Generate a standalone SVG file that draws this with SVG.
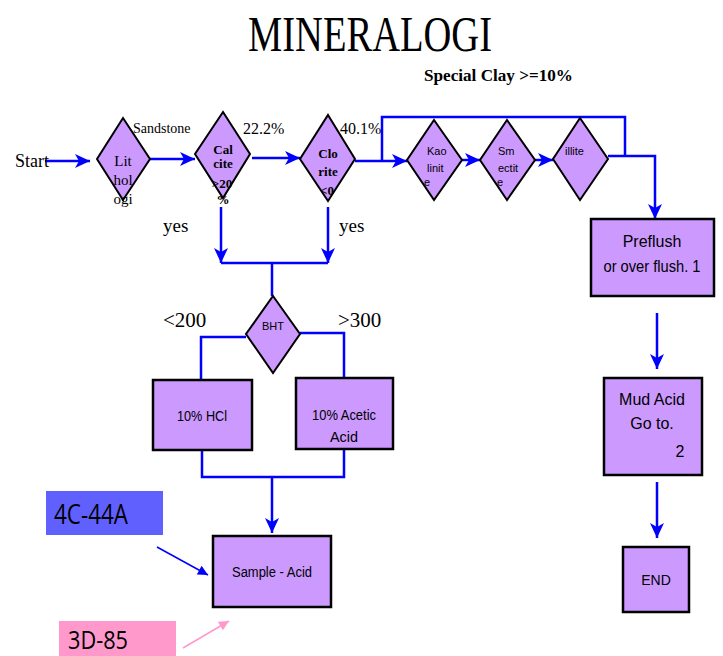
<svg xmlns="http://www.w3.org/2000/svg" width="723" height="656" viewBox="0 0 723 656">
<style>
.dia{fill:#cc99ff;stroke:#000;stroke-width:2}
.box{fill:#cc99ff;stroke:#000;stroke-width:2.5}
.ln{fill:none;stroke:#0000ff;stroke-width:2.5}
.ser{font-family:"Liberation Serif","Times New Roman",serif;fill:#000}
.san{font-family:"Liberation Sans",Arial,sans-serif;fill:#000}
.dt{font-family:"Liberation Serif","Times New Roman",serif;font-weight:bold;font-size:13px;text-anchor:middle;fill:#000}
.dts{font-family:"Liberation Sans",Arial,sans-serif;font-size:11px;fill:#000}
.bt{font-family:"Liberation Sans",Arial,sans-serif;text-anchor:middle;fill:#000}
</style>
<defs>
<marker id="ah" markerUnits="userSpaceOnUse" markerWidth="18" markerHeight="18" viewBox="-1 -9 18 18" refX="15" refY="0" orient="auto">
<path d="M0,-7 L15,0 L0,7 L4,0 z" fill="#0000ff"/>
</marker>
<marker id="ahs" markerUnits="userSpaceOnUse" markerWidth="12" markerHeight="12" viewBox="-1 -6 12 12" refX="10" refY="0" orient="auto">
<path d="M0,-5 L10,0 L0,5 z" fill="#0000ff"/>
</marker>
<marker id="ahp" markerUnits="userSpaceOnUse" markerWidth="12" markerHeight="12" viewBox="-1 -6 12 12" refX="10" refY="0" orient="auto">
<path d="M0,-5 L10,0 L0,5 z" fill="#ff99cc"/>
</marker>
</defs>
<rect width="723" height="656" fill="#fff"/>
<text class="ser" x="248" y="51" font-size="50" textLength="244" lengthAdjust="spacingAndGlyphs">MINERALOGI</text>
<text class="ser" x="424" y="81" font-size="17" font-weight="bold" textLength="149" lengthAdjust="spacingAndGlyphs">Special Clay &gt;=10%</text>

<g id="connectors">
<path class="ln" d="M45,161 H90" marker-end="url(#ah)"/>
<path class="ln" d="M150,159 H195" marker-end="url(#ah)"/>
<path class="ln" d="M252,158 H300" marker-end="url(#ah)"/>
<path class="ln" d="M355,161 H407" marker-end="url(#ah)"/>
<path class="ln" d="M382,161 V117 H625 V156"/>
<path class="ln" d="M608,156 H655 V219" marker-end="url(#ah)"/>
<path class="ln" d="M462,160 H480" marker-end="url(#ah)"/>
<path class="ln" d="M535,160 H553" marker-end="url(#ah)"/>
<path class="ln" d="M221,207 V263" marker-end="url(#ah)"/>
<path class="ln" d="M328,207 V263" marker-end="url(#ah)"/>
<path class="ln" d="M221,263 H328"/>
<path class="ln" d="M272,263 V296"/>
<path class="ln" d="M246,337 H201 V380"/>
<path class="ln" d="M300,333 H344 V378"/>
<path class="ln" d="M202,450 V477 H344 V449"/>
<path class="ln" d="M272,477 V533" marker-end="url(#ah)"/>
<path class="ln" d="M657,313 V369" marker-end="url(#ah)"/>
<path class="ln" d="M657,482 V538" marker-end="url(#ah)"/>
<path fill="none" stroke="#0000ff" stroke-width="1.5" d="M157,547 L208,575" marker-end="url(#ahs)"/>
<path fill="none" stroke="#ff99cc" stroke-width="1.5" d="M183,648 L229,621" marker-end="url(#ahp)"/>
</g>

<text class="ser" x="15" y="167" font-size="18">Start</text>
<text class="ser" x="133" y="133" font-size="14">Sandstone</text>
<text class="ser" x="243" y="134" font-size="16">22.2%</text>
<text class="ser" x="340" y="134" font-size="16">40.1%</text>
<text class="ser" x="163" y="232" font-size="19">yes</text>
<text class="ser" x="339" y="232" font-size="19">yes</text>
<text class="ser" x="163" y="327" font-size="21">&lt;200</text>
<text class="ser" x="338" y="327" font-size="21">&gt;300</text>

<g id="lithologi">
<polygon class="dia" points="123,118 150,159 123,200 97,159"/>
<text class="ser" font-size="15" text-anchor="middle" x="123" y="166">Lit</text>
<text class="ser" font-size="15" text-anchor="middle" x="123" y="185">hol</text>
<text class="ser" font-size="15" text-anchor="middle" x="123" y="204">ogi</text>
</g>
<g id="calcite">
<polygon class="dia" points="223,112 250,154 223,198 195,154"/>
<text class="dt" x="223" y="154">Cal</text>
<text class="dt" x="223" y="168">cite</text>
<text class="dt" x="222" y="188">&gt;20</text>
<text class="dt" x="223" y="204">%</text>
</g>
<g id="clorite">
<polygon class="dia" points="328,115 355,159 328,201 300,159"/>
<text class="dt" x="328" y="158">Clo</text>
<text class="dt" x="328" y="176">rite</text>
<text class="dt" x="327" y="195">&lt;0</text>
</g>
<g id="kaolinite">
<polygon class="dia" points="434,120 462,160 434,200 407,160"/>
<text class="dts" x="427" y="155">Kao</text>
<text class="dts" x="427" y="172">linit</text>
<text class="dts" x="424" y="186">e</text>
</g>
<g id="smectite">
<polygon class="dia" points="507,120 535,160 507,200 480,160"/>
<text class="dts" x="498" y="155">Sm</text>
<text class="dts" x="498" y="172">ectit</text>
<text class="dts" x="497" y="186">e</text>
</g>
<g id="illite">
<polygon class="dia" points="580,118 608,159 580,200 553,159"/>
<text class="dts" x="565" y="155">illite</text>
</g>
<g id="bht">
<polygon class="dia" points="273,296 300,334 273,373 246,334"/>
<text class="dts" x="273" y="330" text-anchor="middle" font-size="9">BHT</text>
</g>
<g id="hcl">
<rect class="box" x="153" y="380" width="99" height="70"/>
<text class="bt" x="202" y="421" font-size="15" textLength="50" lengthAdjust="spacingAndGlyphs">10% HCl</text>
</g>
<g id="acetic">
<rect class="box" x="296" y="378" width="97" height="71"/>
<text class="bt" x="344" y="420" font-size="15" textLength="64" lengthAdjust="spacingAndGlyphs">10% Acetic</text>
<text class="bt" x="344" y="442" font-size="15" textLength="28" lengthAdjust="spacingAndGlyphs">Acid</text>
</g>
<g id="sample">
<rect class="box" x="213" y="536" width="118" height="71"/>
<text class="bt" x="272" y="577" font-size="14" textLength="80" lengthAdjust="spacingAndGlyphs">Sample - Acid</text>
</g>
<g id="c44a">
<rect x="46" y="491" width="117" height="44" fill="#6060ff"/>
<text x="54" y="524" font-family="'Open Sans','Noto Sans',sans-serif" font-size="28" textLength="74" lengthAdjust="spacingAndGlyphs" fill="#000">4C-44A</text>
</g>
<g id="d85">
<rect x="59" y="621" width="117" height="35" fill="#ff99cc"/>
<text x="68" y="649" font-family="'Open Sans','Noto Sans',sans-serif" font-size="25" textLength="60" lengthAdjust="spacingAndGlyphs" fill="#000">3D-85</text>
</g>
<g id="preflush">
<rect class="box" x="591" y="219" width="123" height="77"/>
<text class="bt" x="652" y="247" font-size="16">Preflush</text>
<text class="bt" x="652" y="272" font-size="16" textLength="97" lengthAdjust="spacingAndGlyphs">or over flush. 1</text>
</g>
<g id="mudacid">
<rect class="box" x="604" y="378" width="98" height="97"/>
<text class="bt" x="652" y="405" font-size="16">Mud Acid</text>
<text class="bt" x="652" y="429" font-size="16">Go to.</text>
<text class="bt" x="680" y="457" font-size="16">2</text>
</g>
<g id="end">
<rect class="box" x="623" y="547" width="66" height="65"/>
<text class="bt" x="656" y="585" font-size="14">END</text>
</g>
</svg>
